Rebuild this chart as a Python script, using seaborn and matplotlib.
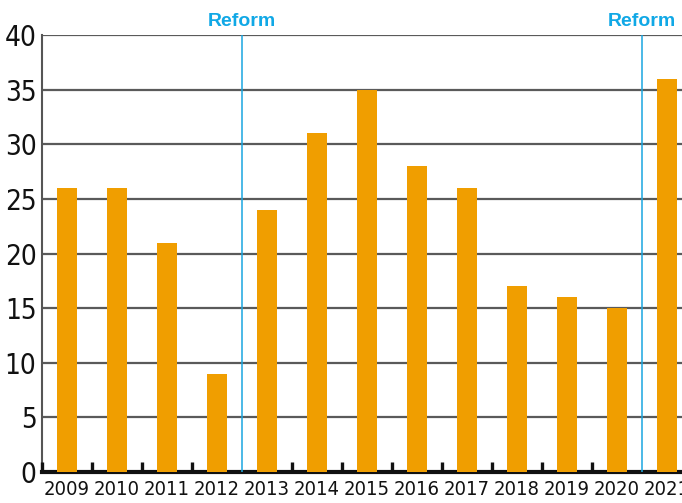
import pandas as pd
import seaborn as sns
import matplotlib.pyplot as plt

years = ['2009', '2010', '2011', '2012', '2013', '2014', '2015',
         '2016', '2017', '2018', '2019', '2020', '2021']
values = [26, 26, 21, 9, 24, 31, 35, 28, 26, 17, 16, 15, 36]
reform_after = ['2012', '2020']

df = pd.DataFrame({'year': years, 'value': values})

sns.set_style('white')
plt.rcParams['font.family'] = ['DejaVu Sans']
plt.rcParams['font.stretch'] = 'condensed'

fig = plt.figure(figsize=(6.82, 5.03), dpi=100)
ax = fig.add_axes([0.0616, 0.0616, 0.9384, 0.8688])

sns.barplot(data=df, x='year', y='value', color='#f09e00', saturation=1,
            width=0.4, linewidth=0, ax=ax, zorder=3)

ax.set_ylim(0, 40)
ax.set_xlim(-0.5, 12.3)
ax.set_yticks(range(0, 41, 5))
ax.yaxis.grid(True, color='#5a5a5a', linewidth=1.6, zorder=0)
ax.set_axisbelow(True)
ax.set_xlabel('')
ax.set_ylabel('')

ax.tick_params(axis='y', length=0, labelsize=20, pad=4)
ax.tick_params(axis='x', length=0, labelsize=14.5, pad=6)
for lab in ax.get_xticklabels() + ax.get_yticklabels():
    lab.set_color('#111111')

for s in ['top', 'right']:
    ax.spines[s].set_visible(False)
ax.spines['left'].set_color('#555555')
ax.spines['left'].set_linewidth(1.5)
ax.spines['bottom'].set_color('#111111')
ax.spines['bottom'].set_linewidth(3)

# boundary ticks between the bars
reform_pos = [years.index(y) + 0.5 for y in reform_after]
for i in range(len(years)):
    b = i - 0.5
    if b in reform_pos:
        continue
    ax.plot([b, b], [0, 0.9], color='#111111', linewidth=2.4,
            solid_capstyle='butt', zorder=4, clip_on=False)

for p in reform_pos:
    ax.axvline(p, color='#1aa6e0', linewidth=1.1, zorder=4)
    ax.text(p, 40.45, 'Reform', ha='center', va='bottom', color='#10a8e6',
            fontsize=14, fontweight='bold', family='Liberation Sans',
            fontstretch='normal')

fig.savefig('out.png', dpi=100)
